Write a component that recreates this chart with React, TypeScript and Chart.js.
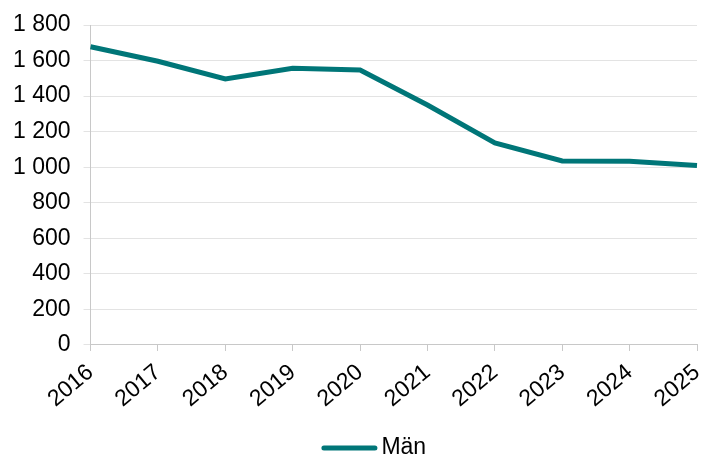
import React, { useEffect, useRef } from "react";
import { Chart, registerables } from "chart.js";

Chart.register(...registerables);

const years = ["2016", "2017", "2018", "2019", "2020", "2021", "2022", "2023", "2024", "2025"];
const man = [1678, 1596, 1497, 1556, 1547, 1350, 1137, 1035, 1033, 1009];
const seriesLabel = "Män";
const lineColor = "#007678";

const fmt = (v: number) => String(v).replace(/\B(?=(\d{3})+(?!\d))/g, " ");
const FONT_FAMILY = "'Liberation Sans', Arial, sans-serif";

const bottomLegend = {
  id: "bottomLegend",
  afterDraw(chart: any) {
    const ctx = chart.ctx;
    const ds = chart.data.datasets[0];
    const lineLen = 56;
    const gap = 4;
    ctx.save();
    ctx.font = `23px ${FONT_FAMILY}`;
    const tw = ctx.measureText(ds.label).width;
    const total = lineLen + gap + tw;
    const cx = (chart.chartArea.left + chart.chartArea.right) / 2 - 20;
    const x0 = cx - total / 2;
    const y = chart.height - 11;
    ctx.strokeStyle = ds.borderColor;
    ctx.lineWidth = 5;
    ctx.lineCap = "round";
    ctx.beginPath();
    ctx.moveTo(x0 + 2.5, y);
    ctx.lineTo(x0 + lineLen - 2.5, y);
    ctx.stroke();
    ctx.fillStyle = "#000";
    ctx.textBaseline = "middle";
    ctx.textAlign = "left";
    ctx.fillText(ds.label, x0 + lineLen + gap, y);
    ctx.restore();
  },
};

export default function App() {
  const ref = useRef<HTMLCanvasElement | null>(null);
  useEffect(() => {
    if (!ref.current) return;
    const font = { family: FONT_FAMILY, size: 23 };
    const chart = new Chart(ref.current, {
      type: "line",
      data: {
        labels: years,
        datasets: [
          {
            label: seriesLabel,
            data: man,
            borderColor: lineColor,
            backgroundColor: lineColor,
            borderWidth: 5,
            pointRadius: 0,
            tension: 0,
          },
        ],
      },
      plugins: [bottomLegend],
      options: {
        animation: false,
        responsive: false,
        maintainAspectRatio: false,
        layout: { padding: { top: 25, right: 5, left: 0, bottom: 38 } },
        scales: {
          x: {
            offset: false,
            afterFit: (s: any) => {
              s.paddingRight = 0;
            },
            grid: {
              display: true,
              drawOnChartArea: false,
              drawTicks: true,
              tickLength: 6,
              color: "#c8c8c8",
            },
            border: { color: "#c8c8c8", width: 1 },
            ticks: {
              color: "#000",
              font,
              minRotation: 40,
              maxRotation: 40,
              padding: 8,
              autoSkip: false,
            },
          },
          y: {
            min: 0,
            max: 1800,
            afterFit: (s: any) => {
              s.paddingTop = 0;
              s.paddingBottom = 0;
            },
            grid: { color: "#e3e3e3", tickLength: 7, lineWidth: 1 },
            border: { color: "#c8c8c8", width: 1 },
            ticks: {
              stepSize: 200,
              color: "#000",
              font,
              padding: 13,
              callback: (v: any) => fmt(Number(v)),
            },
          },
        },
        plugins: {
          legend: { display: false },
          tooltip: { enabled: false },
        },
      },
    });
    return () => chart.destroy();
  }, []);
  return (
    <div style={{ position: "fixed", left: 0, top: 0, width: 702, height: 459, background: "#fff" }}>
      <canvas ref={ref} width={702} height={459} style={{ display: "block" }} />
    </div>
  );
}
